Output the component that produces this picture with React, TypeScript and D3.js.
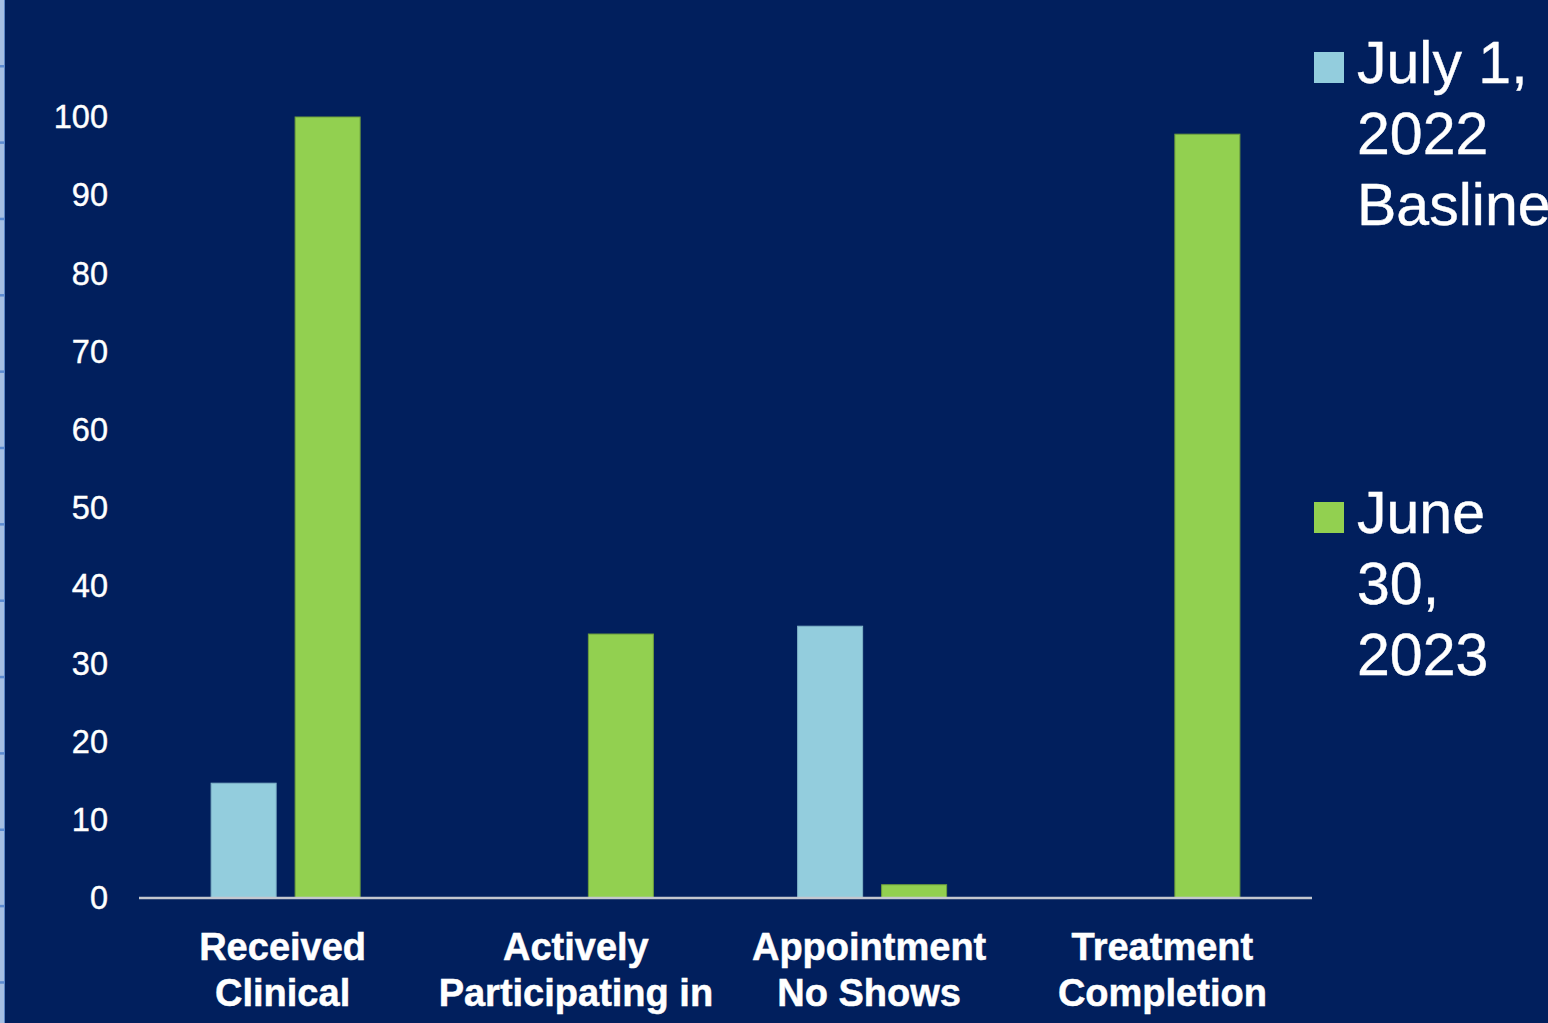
import React from "react";
import * as d3 from "d3";

const categories: string[][] = [
  ["Received", "Clinical", "Education"],
  ["Actively", "Participating in", "Clinical Trials"],
  ["Appointment", "No Shows"],
  ["Treatment", "Completion"],
];
const seriesNames: string[][] = [
  ["July 1,", "2022", "Basline"],
  ["June", "30,", "2023"],
];
const baseline2022: number[] = [14.7, 0, 34.8, 0];
const june2023: number[] = [100, 33.8, 1.7, 97.8];
const yTicks: number[] = [0, 10, 20, 30, 40, 50, 60, 70, 80, 90, 100];

const colors = ["#93CDDD", "#92D050"];
const strokes = ["#7FB3C8", "#6E9F3C"];
const BG = "#011F5D";
const FONT = "'Liberation Sans', Arial, Helvetica, sans-serif";

export default function App() {
  const W = 1548;
  const H = 1023;
  const plotLeft = 139;
  const plotRight = 1312;
  const y0 = 898;
  const y100 = 117;

  const keys = categories.map((c) => c.join(" "));
  const x0 = d3.scaleBand<string>().domain(keys).range([plotLeft, plotRight]).padding(0);
  const x1 = d3
    .scaleBand<number>()
    .domain([0, 1])
    .range([0, x0.bandwidth()])
    .paddingInner(0.226)
    .paddingOuter(0.8587);
  const y = d3.scaleLinear().domain([0, 100]).range([y0, y100]);

  const series = [baseline2022, june2023];
  const edgeTicks = d3.range(66, H, 76.35);

  return (
    <svg
      width={W}
      height={H}
      style={{ position: "fixed", left: 0, top: 0, display: "block" }}
      fontFamily={FONT}
    >
      <rect x={0} y={0} width={W} height={H} fill={BG} />
      {/* left slide edge */}
      <rect x={0} y={0} width={4} height={H} fill="#A5BFE3" />
      <rect x={4} y={0} width={1} height={H} fill="#5C86C6" />
      {edgeTicks.map((t, i) => (
        <rect key={i} x={0} y={t - 1} width={5} height={2.5} fill="#5B8BD2" />
      ))}

      {/* y tick labels */}
      {yTicks.map((t) => (
        <text
          key={t}
          x={108}
          y={y(t)}
          dy="0.35em"
          textAnchor="end"
          fill="#FFFFFF"
          stroke="#FFFFFF"
          strokeWidth={0.4}
          fontSize={32.5}
        >
          {t}
        </text>
      ))}

      {/* bars */}
      {keys.map((k, ci) => (
        <g key={k} transform={`translate(${x0(k)},0)`}>
          {series.map((s, si) =>
            s[ci] > 0 ? (
              <rect
                key={si}
                x={x1(si)}
                y={y(s[ci])}
                width={x1.bandwidth()}
                height={y0 - y(s[ci])}
                fill={colors[si]}
                stroke={strokes[si]}
                strokeWidth={1}
              />
            ) : null
          )}
        </g>
      ))}

      {/* x axis line */}
      <line x1={plotLeft} x2={plotRight} y1={y0} y2={y0} stroke="#C3C7CF" strokeWidth={2.5} />

      {/* category labels */}
      {categories.map((lines, ci) => {
        const cx = (x0(keys[ci]) as number) + x0.bandwidth() / 2 - 3;
        return (
          <text
            key={ci}
            x={cx}
            y={960}
            textAnchor="middle"
            fill="#FFFFFF"
            stroke="#FFFFFF"
            strokeWidth={0.5}
            fontSize={38}
            fontWeight="bold"
          >
            {lines.map((l, li) => (
              <tspan key={li} x={cx} y={960 + li * 46}>
                {l}
              </tspan>
            ))}
          </text>
        );
      })}

      {/* legend */}
      {seriesNames.map((lines, si) => {
        const top = si === 0 ? 83 : 533;
        return (
          <g key={si}>
            <rect x={1314} y={top - 31} width={30} height={31} fill={colors[si]} />
            <text fill="#FFFFFF" stroke="#FFFFFF" strokeWidth={0.4} fontSize={59}>
              {lines.map((l, li) => (
                <tspan key={li} x={1357} y={top + li * 71}>
                  {l}
                </tspan>
              ))}
            </text>
          </g>
        );
      })}
    </svg>
  );
}
